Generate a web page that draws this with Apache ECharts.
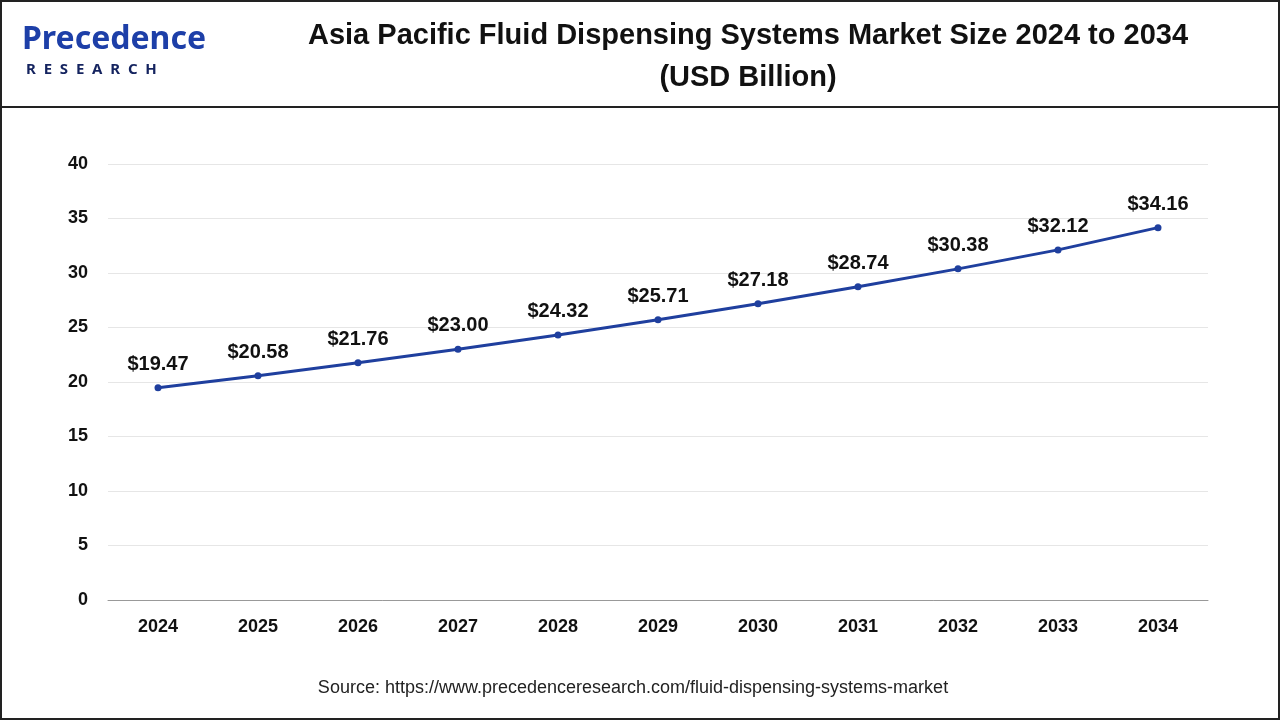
<!DOCTYPE html>
<html><head><meta charset="utf-8">
<script src="https://cdn.jsdelivr.net/npm/echarts@6/dist/echarts.min.js"></script>
<style>html,body{margin:0;padding:0;background:#fff}#c{width:1280px;height:720px}</style>
</head><body><div id="c"></div>
<script>
const years = ['2024','2025','2026','2027','2028','2029','2030','2031','2032','2033','2034'];
const values = [19.47,20.58,21.76,23.00,24.32,25.71,27.18,28.74,30.38,32.12,34.16];
const yTicks = [0,5,10,15,20,25,30,35,40];
const chart = echarts.init(document.getElementById('c'));
chart.setOption({
  backgroundColor:'#fff',
  graphic:[
    {type:'rect',shape:{x:1,y:1,width:1278,height:718},style:{fill:'none',stroke:'#222',lineWidth:2}},
    {type:'line',shape:{x1:0,y1:107,x2:1280,y2:107},style:{stroke:'#222',lineWidth:2}},
    {type:'text',x:22,y:24,style:{text:'Precedence',font:'bold 32px "Noto Sans"',fill:'#1d3fa8'}},
    {type:'text',x:26,y:62,style:{text:'R  E  S  E  A  R  C  H',font:'bold 15px "Noto Sans"',fill:'#14235f'}},
    {type:'text',x:748,y:15,style:{text:'Asia Pacific Fluid Dispensing Systems Market Size 2024 to 2034\n(USD Billion)',font:'bold 29px "Liberation Sans"',fill:'#111',align:'center',lineHeight:42}},
    {type:'text',x:633,y:679,style:{text:'Source: https://www.precedenceresearch.com/fluid-dispensing-systems-market',font:'18px "Liberation Sans"',fill:'#222',align:'center'}}
  ],
  grid:{left:108,top:164,width:1100,height:436},
  xAxis:{type:'category',data:years,boundaryGap:true,
    axisLine:{lineStyle:{color:'#999'}},axisTick:{show:false},
    axisLabel:{color:'#111',fontWeight:'bold',fontSize:18,margin:18,fontFamily:'Liberation Sans'}},
  yAxis:{type:'value',min:yTicks[0],max:yTicks[yTicks.length-1],interval:5,
    axisLine:{show:false},axisTick:{show:false},
    splitLine:{lineStyle:{color:'#e6e6e6'}},
    axisLabel:{color:'#111',fontWeight:'bold',fontSize:18,margin:20,fontFamily:'Liberation Sans'}},
  series:[{type:'line',data:values,symbol:'circle',symbolSize:7,
    itemStyle:{color:'#1f3f9e'},lineStyle:{color:'#1f3f9e',width:3},
    label:{show:true,position:'top',distance:10,formatter:p=>'$'+p.value.toFixed(2),
      color:'#111',fontWeight:'bold',fontSize:20,fontFamily:'Liberation Sans'}}]
});
</script></body></html>
